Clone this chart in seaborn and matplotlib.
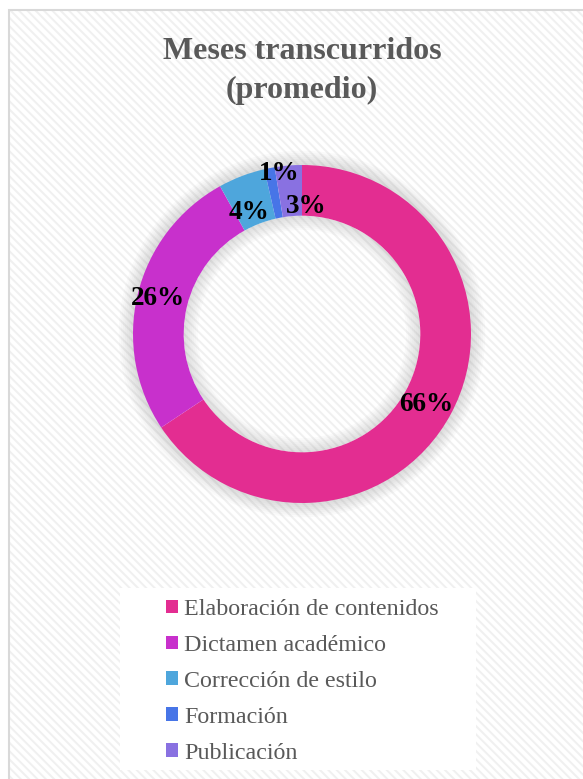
import numpy as np
import matplotlib
matplotlib.use('Agg')
import matplotlib.pyplot as plt
from matplotlib.patches import Rectangle, Wedge
import seaborn as sns

# data (share of average months)
categorias = ['Elaboración de contenidos', 'Dictamen académico',
              'Corrección de estilo', 'Formación', 'Publicación']
valores = [66.0, 26.4, 4.5, 1.0, 2.6]
colores = ['#E32D91', '#C830CC', '#4EA6DC', '#4775E7', '#8971E1']
titulo = 'Meses transcurridos\n(promedio)'

sns.set_theme(style='white')
plt.rcParams['font.family'] = ['Liberation Serif', 'DejaVu Serif']
plt.rcParams['hatch.linewidth'] = 1.4

W, H = 583, 779
fig = plt.figure(figsize=(W / 100, H / 100), dpi=100)
fig.patch.set_facecolor('white')

# striped background + border of the chart area
fig.patches.append(Rectangle((9 / W, 0), 1, 1 - 10 / H, transform=fig.transFigure,
                             facecolor='white', edgecolor='#F0F0F0', hatch='\\\\\\\\',
                             lw=0, zorder=-3))
fig.patches.append(Rectangle((9 / W, -0.01), 1, 1.01 - 10 / H, transform=fig.transFigure,
                             facecolor='none', edgecolor='#D9D9D9', lw=1.5, zorder=-2))
# white box behind the legend
fig.patches.append(Rectangle((120 / W, 1 - 770 / H), 356 / W, 182 / H,
                             transform=fig.transFigure, facecolor='white',
                             edgecolor='none', zorder=-1))

# donut
cx, cy, r = 302, 334, 169
lim = 1.2
side = 2 * r * lim
ax = fig.add_axes([(cx - side / 2) / W, 1 - (cy + side / 2) / H, side / W, side / H])
ax.set_zorder(2)
ax.patch.set_alpha(0)

ancho = 0.3
# soft shadow around the ring
for k in range(1, 8):
    ax.add_patch(Wedge((0, 0), 1 + 0.012 * k, 0, 360, width=0.012 * k + 0.01,
                       facecolor='#808080', alpha=0.04, lw=0))
    ax.add_patch(Wedge((0, 0), 1 - ancho, 0, 360, width=0.012 * k,
                       facecolor='#808080', alpha=0.035, lw=0))

wedges, textos, autotextos = ax.pie(
    valores, colors=colores, startangle=90, counterclock=False,
    wedgeprops=dict(width=ancho, linewidth=0),
    autopct=lambda p: f'{p:.0f}%', pctdistance=0.85,
    textprops=dict(fontsize=19.5, fontweight='bold', color='black'))

# nudge the crowded labels like the original layout
radios = [0.846, 0.88, 0.785, 0.96, 0.757]
giros = [1.5, 0.0, -2.4, 2.9, 6.5]
for t, rr, g in zip(autotextos, radios, giros):
    x, y = t.get_position()
    ang = np.arctan2(y, x) - np.deg2rad(g)
    t.set_position((rr * np.cos(ang), rr * np.sin(ang)))

ax.set_xlim(-lim, lim)
ax.set_ylim(-lim, lim)
ax.set_aspect('equal')
ax.axis('off')

fig.text(302 / W, 1 - 71 / H, titulo, ha='center', va='center', fontsize=23,
         fontweight='bold', color='#595959', linespacing=1.45)

fig.legend(wedges, categorias, loc='upper left',
           bbox_to_anchor=(166 / W, 1 - 599 / H), frameon=False,
           fontsize=17.3, labelcolor='#595959', handlelength=0.5,
           handleheight=0.5, handletextpad=0.25, labelspacing=0.62,
           borderpad=0, borderaxespad=0)

fig.savefig('out.png', dpi=100)
